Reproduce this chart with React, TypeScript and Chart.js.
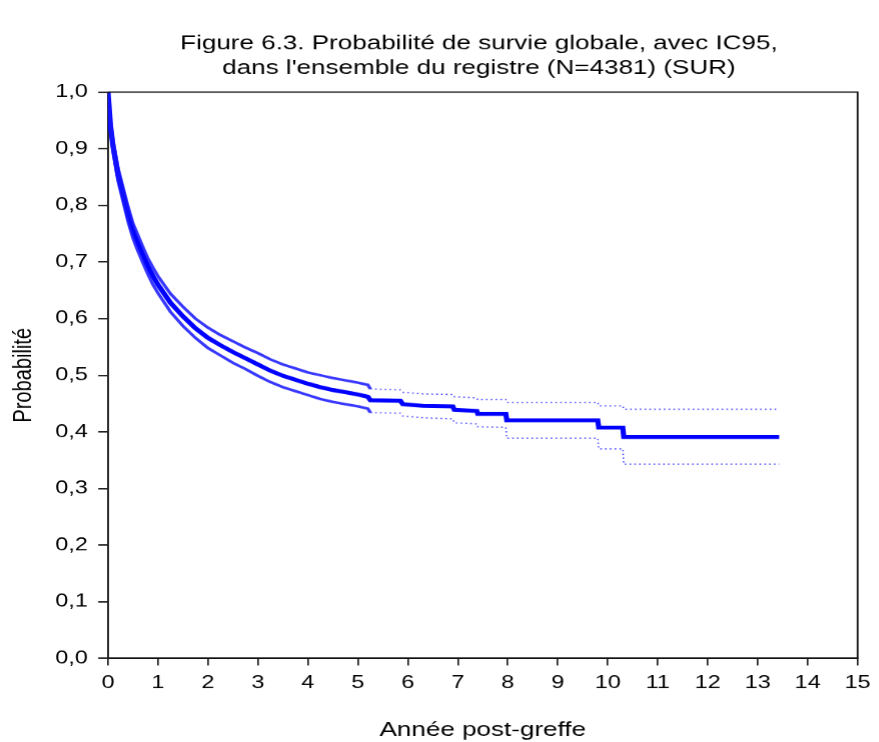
import React, { useEffect, useRef } from "react";
import { Chart, registerables } from "chart.js";

Chart.register(...registerables);

const titleLines = [
  "Figure 6.3. Probabilité de survie globale, avec IC95,",
  "dans l'ensemble du registre (N=4381) (SUR)",
];
const xAxisTitle = "Année post-greffe";
const yAxisTitle = "Probabilité";

const times = [0, 0.05, 0.1, 0.15, 0.2, 0.3, 0.4, 0.5, 0.6, 0.7, 0.8, 0.9, 1.0, 1.25, 1.5, 1.75, 2.0, 2.25, 2.5, 2.75, 3.0, 3.25, 3.5, 3.75, 4.0, 4.25, 4.5, 4.75, 5.0, 5.2, 5.25, 5.85, 5.9, 6.3, 6.9, 6.93, 7.38, 7.4, 7.96, 7.98, 9.8, 9.82, 10.3, 10.32, 13.43];

const survival = [1.0, 0.94, 0.905, 0.88, 0.855, 0.82, 0.785, 0.755, 0.733, 0.712, 0.692, 0.675, 0.66, 0.628, 0.604, 0.583, 0.566, 0.553, 0.541, 0.53, 0.519, 0.508, 0.499, 0.492, 0.485, 0.479, 0.474, 0.47, 0.466, 0.462, 0.456, 0.455, 0.449, 0.446, 0.445, 0.439, 0.437, 0.432, 0.432, 0.4205, 0.4205, 0.4076, 0.4076, 0.391, 0.391];

const upperCI = [1.0, 0.947, 0.914, 0.89, 0.866, 0.832, 0.798, 0.768, 0.747, 0.726, 0.706, 0.69, 0.675, 0.644, 0.621, 0.6, 0.584, 0.571, 0.56, 0.549, 0.539, 0.528, 0.519, 0.512, 0.505, 0.5, 0.495, 0.491, 0.487, 0.483, 0.476, 0.474, 0.47, 0.467, 0.466, 0.462, 0.46, 0.457, 0.457, 0.452, 0.452, 0.446, 0.446, 0.44, 0.44];

const lowerCI = [1.0, 0.933, 0.896, 0.87, 0.844, 0.808, 0.772, 0.742, 0.719, 0.698, 0.678, 0.66, 0.645, 0.612, 0.587, 0.566, 0.548, 0.535, 0.522, 0.511, 0.499, 0.488, 0.479, 0.472, 0.465, 0.458, 0.453, 0.449, 0.445, 0.441, 0.434, 0.433, 0.428, 0.425, 0.423, 0.416, 0.414, 0.409, 0.408, 0.389, 0.389, 0.37, 0.37, 0.343, 0.343];

const dottedFrom = 5.25;

const FONT = 'Arial, "Liberation Sans", sans-serif';

// The reference figure is horizontally stretched; the chart is drawn on a
// narrower canvas and widened with a horizontal scale.
const PAGE_W = 879;
const PAGE_H = 742;
const STRETCH = 1.3;
const INNER_W = PAGE_W / STRETCH;

const toPoints = (ys: number[]) => times.map((t, i) => ({ x: t, y: ys[i] }));

const framePlugin = {
  id: "frameAndTitle",
  afterDraw(chart: any) {
    const { ctx, chartArea } = chart;
    ctx.save();
    ctx.strokeStyle = "#111";
    ctx.lineWidth = 1.4;
    ctx.beginPath();
    ctx.moveTo(chartArea.left, chartArea.top);
    ctx.lineTo(chartArea.right, chartArea.top);
    ctx.lineTo(chartArea.right, chartArea.bottom);
    ctx.stroke();
    ctx.fillStyle = "#000";
    ctx.font = `20px ${FONT}`;
    ctx.textAlign = "center";
    ctx.textBaseline = "middle";
    const cx = (chartArea.left + chartArea.right) / 2 - 3;
    ctx.fillText(titleLines[0], cx, 44);
    ctx.fillText(titleLines[1], cx, 68);
    ctx.restore();
  },
};

export default function App() {
  const ref = useRef<HTMLCanvasElement | null>(null);
  useEffect(() => {
    if (!ref.current) return;
    const ciSegment = {
      borderDash: (c: any) => (c.p0.parsed.x >= dottedFrom ? [1.2, 2.5] : undefined),
      borderWidth: (c: any) => (c.p0.parsed.x >= dottedFrom ? 1.2 : 2.6),
    };
    const chart = new Chart(ref.current, {
      type: "line",
      data: {
        datasets: [
          {
            label: "IC95 sup",
            data: toPoints(upperCI),
            borderColor: "rgba(20,20,255,0.85)",
            borderWidth: 2.6,
            pointRadius: 0,
            tension: 0,
            segment: ciSegment,
          },
          {
            label: "IC95 inf",
            data: toPoints(lowerCI),
            borderColor: "rgba(20,20,255,0.85)",
            borderWidth: 2.6,
            pointRadius: 0,
            tension: 0,
            segment: ciSegment,
          },
          {
            label: "Survie",
            data: toPoints(survival),
            borderColor: "#0000ff",
            borderWidth: 4,
            pointRadius: 0,
            tension: 0,
          },
        ],
      },
      options: {
        animation: false,
        responsive: true,
        maintainAspectRatio: false,
        devicePixelRatio: STRETCH,
        layout: { padding: { top: 92, right: 12, left: 0, bottom: 0 } },
        plugins: { legend: { display: false }, tooltip: { enabled: false }, title: { display: false } },
        scales: {
          x: {
            type: "linear",
            min: 0,
            max: 15,
            afterFit: (s: any) => {
              s.height = 84;
            },
            ticks: { stepSize: 1, color: "#000", font: { family: FONT, size: 18 }, padding: 7, maxRotation: 0 },
            grid: { drawOnChartArea: false, drawTicks: true, tickLength: 7, color: "#222", lineWidth: 1.3 },
            border: { display: true, color: "#111", width: 1.5 },
            title: { display: true, text: xAxisTitle, color: "#000", font: { family: FONT, size: 20 }, padding: { top: 0, bottom: 0 } },
          },
          y: {
            type: "linear",
            min: 0,
            max: 1,
            afterFit: (s: any) => {
              s.width = 83;
            },
            ticks: {
              stepSize: 0.1,
              color: "#000",
              font: { family: FONT, size: 18 },
              padding: 8,
              callback: (v: any) => Number(v).toFixed(1).replace(".", ","),
            },
            grid: { drawOnChartArea: false, drawTicks: true, tickLength: 7.5, color: "#222", lineWidth: 1.5 },
            border: { display: true, color: "#222", width: 1.5 },
            title: { display: true, text: yAxisTitle, color: "#000", font: { family: FONT, size: 20 }, padding: { top: 6, bottom: 0 } },
          },
        },
      },
      plugins: [framePlugin],
    });
    return () => chart.destroy();
  }, []);
  return (
    <div style={{ position: "absolute", left: 0, top: 0, width: PAGE_W, height: PAGE_H, background: "#fff", overflow: "hidden" }}>
      <div
        style={{
          position: "absolute",
          left: 0,
          top: 0,
          width: INNER_W,
          height: PAGE_H,
          transform: `scaleX(${STRETCH})`,
          transformOrigin: "0 0",
        }}
      >
        <canvas ref={ref} />
      </div>
    </div>
  );
}
